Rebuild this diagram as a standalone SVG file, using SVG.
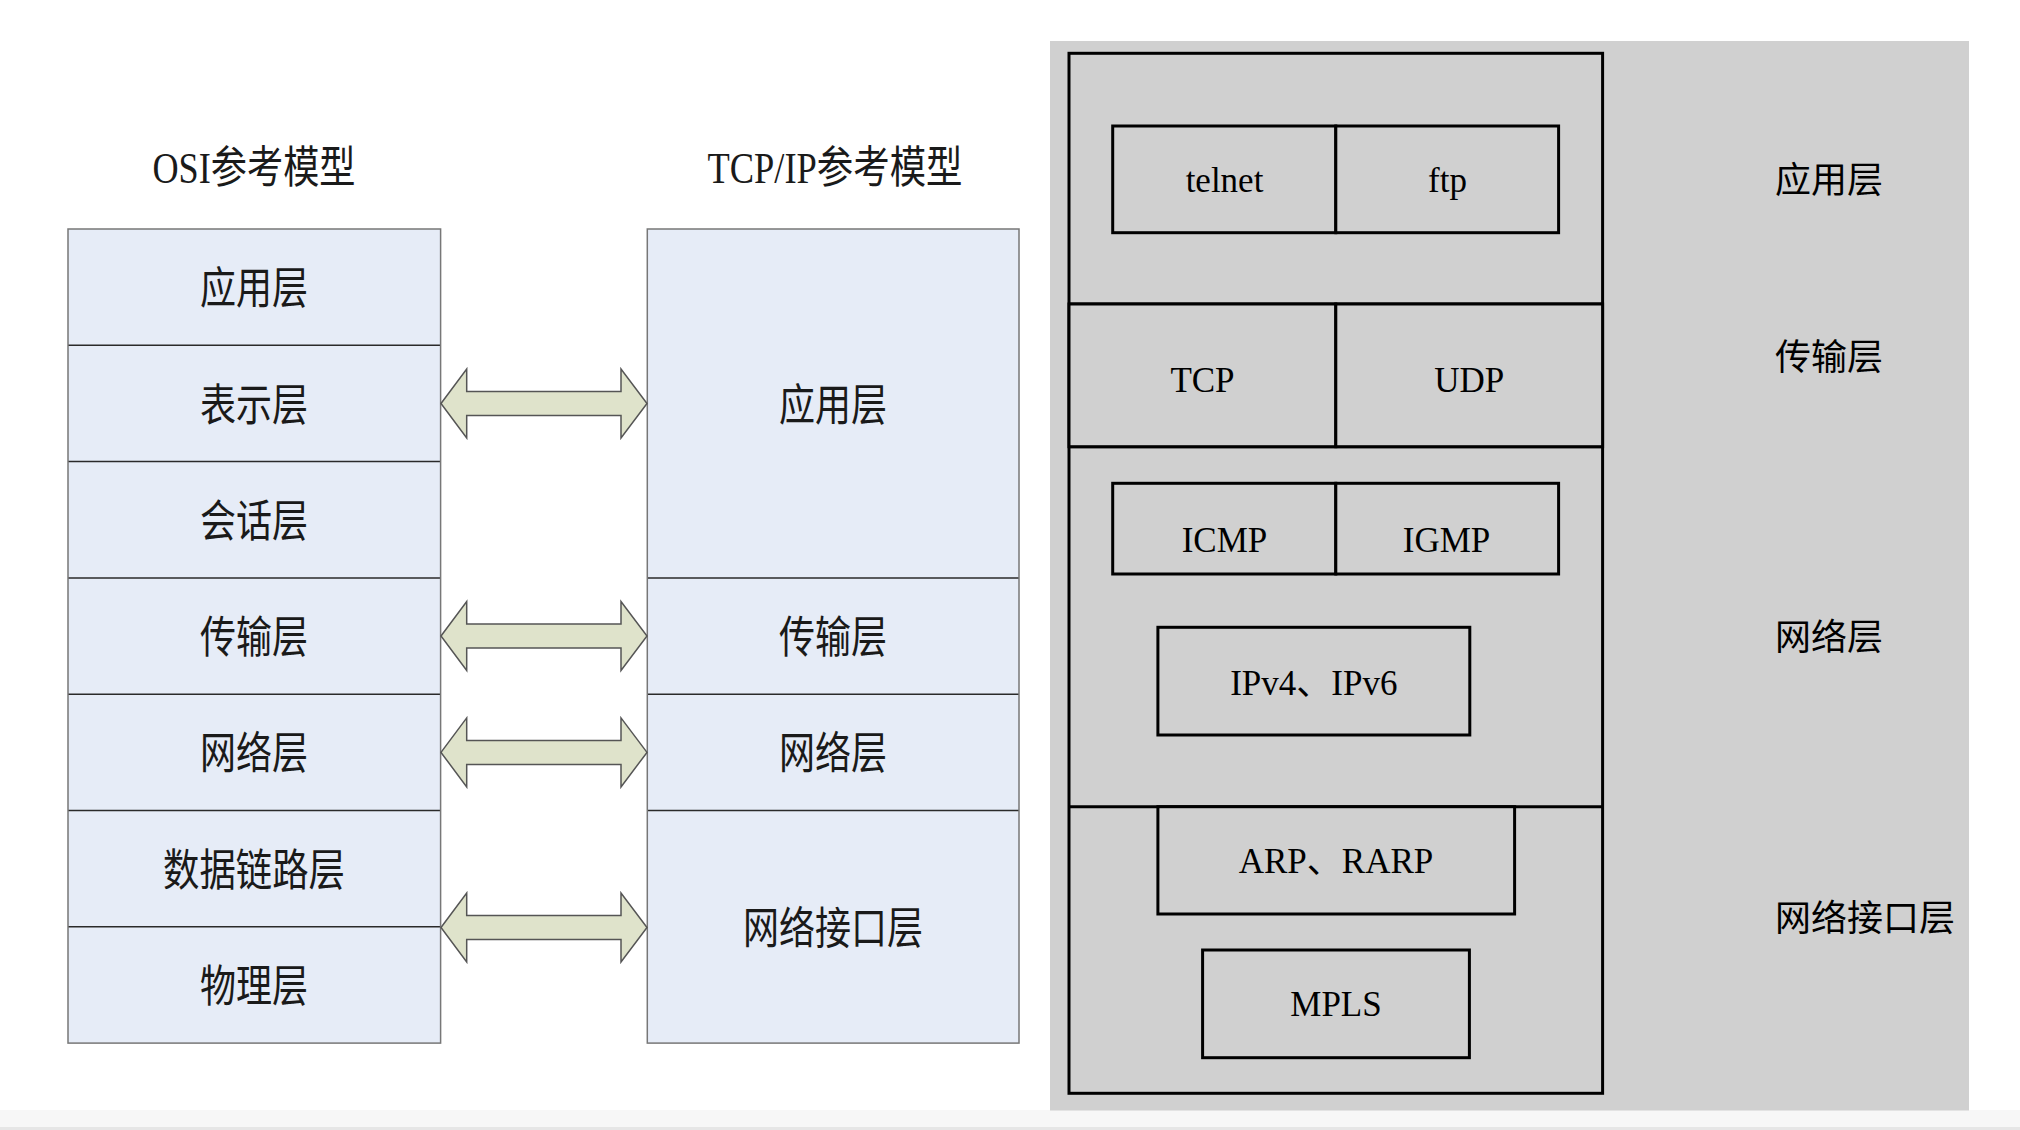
<svg xmlns="http://www.w3.org/2000/svg" width="2020" height="1130" viewBox="0 0 2020 1130">
<style>
.cell{fill:#e6ecf7;stroke:none}
.div{stroke:#2a2a2a;stroke-width:1.5}
.frame{fill:none;stroke:#777;stroke-width:1.5}
.lbl{font-family:"Liberation Serif","Noto Sans CJK SC",serif;font-size:44px;fill:#1a1a1a;text-anchor:middle}
.arrow{fill:#dfe3cb;stroke:#555;stroke-width:1.5;stroke-linejoin:miter}
.box{fill:#d0d0d0;stroke:#000;stroke-width:3}
.pt{font-family:"Liberation Serif","Noto Sans CJK SC",serif;font-size:35px;fill:#000;text-anchor:middle}
.side{font-family:"Noto Sans CJK SC",sans-serif;font-size:36px;fill:#000}
</style>
<rect x="0" y="0" width="2020" height="1130" fill="#ffffff"/>
<rect x="0" y="1110" width="2020" height="17" fill="#f7f7f7"/>
<rect x="0" y="1127" width="2020" height="3" fill="#e6e6e6"/>

<!-- Titles -->
<text id="osi-title" class="lbl" x="254" y="183" textLength="203" lengthAdjust="spacingAndGlyphs">OSI参考模型</text>
<text id="tcpip-title" class="lbl" x="835" y="183" textLength="255" lengthAdjust="spacingAndGlyphs">TCP/IP参考模型</text>

<!-- OSI model -->
<g id="osi-app"><rect class="cell" x="68" y="229" width="372.6" height="116.3"/><text class="lbl" x="254" y="304" textLength="108" lengthAdjust="spacingAndGlyphs">应用层</text></g>
<g id="osi-pres"><rect class="cell" x="68" y="345.3" width="372.6" height="116.3"/><text class="lbl" x="254" y="420.5" textLength="108" lengthAdjust="spacingAndGlyphs">表示层</text></g>
<g id="osi-sess"><rect class="cell" x="68" y="461.6" width="372.6" height="116.3"/><text class="lbl" x="254" y="537" textLength="108" lengthAdjust="spacingAndGlyphs">会话层</text></g>
<g id="osi-trans"><rect class="cell" x="68" y="577.9" width="372.6" height="116.3"/><text class="lbl" x="254" y="653" textLength="108" lengthAdjust="spacingAndGlyphs">传输层</text></g>
<g id="osi-net"><rect class="cell" x="68" y="694.2" width="372.6" height="116.3"/><text class="lbl" x="254" y="769.4" textLength="108" lengthAdjust="spacingAndGlyphs">网络层</text></g>
<g id="osi-link"><rect class="cell" x="68" y="810.5" width="372.6" height="116.3"/><text class="lbl" x="254" y="885.7" textLength="182" lengthAdjust="spacingAndGlyphs">数据链路层</text></g>
<g id="osi-phys"><rect class="cell" x="68" y="926.8" width="372.6" height="116.3"/><text class="lbl" x="254" y="1002" textLength="108" lengthAdjust="spacingAndGlyphs">物理层</text></g>
<g id="osi-frame">
<line class="div" x1="68" y1="345.3" x2="440.6" y2="345.3"/>
<line class="div" x1="68" y1="461.6" x2="440.6" y2="461.6"/>
<line class="div" x1="68" y1="577.9" x2="440.6" y2="577.9"/>
<line class="div" x1="68" y1="694.2" x2="440.6" y2="694.2"/>
<line class="div" x1="68" y1="810.5" x2="440.6" y2="810.5"/>
<line class="div" x1="68" y1="926.8" x2="440.6" y2="926.8"/>
<rect class="frame" x="68" y="229" width="372.6" height="814.1"/>
</g>

<!-- TCP/IP model -->
<g id="tcp-app"><rect class="cell" x="647.3" y="229" width="371.7" height="348.9"/><text class="lbl" x="833" y="420.5" textLength="108" lengthAdjust="spacingAndGlyphs">应用层</text></g>
<g id="tcp-trans"><rect class="cell" x="647.3" y="577.9" width="371.7" height="116.3"/><text class="lbl" x="833" y="653" textLength="108" lengthAdjust="spacingAndGlyphs">传输层</text></g>
<g id="tcp-net"><rect class="cell" x="647.3" y="694.2" width="371.7" height="116.3"/><text class="lbl" x="833" y="769.4" textLength="108" lengthAdjust="spacingAndGlyphs">网络层</text></g>
<g id="tcp-if"><rect class="cell" x="647.3" y="810.5" width="371.7" height="232.6"/><text class="lbl" x="833" y="944" textLength="180" lengthAdjust="spacingAndGlyphs">网络接口层</text></g>
<g id="tcp-frame">
<line class="div" x1="647.3" y1="577.9" x2="1019" y2="577.9"/>
<line class="div" x1="647.3" y1="694.2" x2="1019" y2="694.2"/>
<line class="div" x1="647.3" y1="810.5" x2="1019" y2="810.5"/>
<rect class="frame" x="647.3" y="229" width="371.7" height="814.1"/>
</g>

<!-- Connectors -->
<g id="connectors">
<polygon class="arrow" points="441,403.5 466.7,369 466.7,391.5 621,391.5 621,369 647,403.5 621,438 621,415.5 466.7,415.5 466.7,438"/>
<polygon class="arrow" points="441,636 466.7,601.5 466.7,624 621,624 621,601.5 647,636 621,670.5 621,648 466.7,648 466.7,670.5"/>
<polygon class="arrow" points="441,752.4 466.7,717.9 466.7,740.4 621,740.4 621,717.9 647,752.4 621,786.9 621,764.4 466.7,764.4 466.7,786.9"/>
<polygon class="arrow" points="441,927.5 466.7,893 466.7,915.5 621,915.5 621,893 647,927.5 621,962 621,939.5 466.7,939.5 466.7,962"/>
</g>

<!-- Right panel -->
<rect id="panel-bg" x="1050" y="41" width="919" height="1069.5" fill="#d0d0d0"/>
<g id="stack-frame">
<rect class="box" x="1069" y="53.3" width="533.6" height="1040"/>
<line class="box" x1="1069" y1="304" x2="1602.6" y2="304"/>
<line class="box" x1="1069" y1="446.7" x2="1602.6" y2="446.7"/>
<line class="box" x1="1069" y1="806.7" x2="1602.6" y2="806.7"/>
</g>
<g id="telnet"><rect class="box" x="1112.7" y="126" width="223.1" height="106.7"/><text class="pt" x="1224.5" y="191.7">telnet</text></g>
<g id="ftp"><rect class="box" x="1335.8" y="126" width="222.8" height="106.7"/><text class="pt" x="1447.5" y="191.7">ftp</text></g>
<g id="tcp"><rect class="box" x="1069" y="304" width="266.8" height="142.7"/><text class="pt" x="1202.5" y="391.7">TCP</text></g>
<g id="udp"><rect class="box" x="1335.8" y="304" width="266.8" height="142.7"/><text class="pt" x="1469.3" y="391.7">UDP</text></g>
<g id="icmp"><rect class="box" x="1112.7" y="483.3" width="223.1" height="90.7"/><text class="pt" x="1224.5" y="551.7">ICMP</text></g>
<g id="igmp"><rect class="box" x="1335.8" y="483.3" width="222.8" height="90.7"/><text class="pt" x="1446.5" y="551.7">IGMP</text></g>
<g id="ip"><rect class="box" x="1157.9" y="627.3" width="311.9" height="107.7"/><text class="pt" x="1313.8" y="695">IPv4、IPv6</text></g>
<g id="arp"><rect class="box" x="1157.9" y="806.7" width="356.7" height="107.3"/><text class="pt" x="1336" y="872.7">ARP、RARP</text></g>
<g id="mpls"><rect class="box" x="1202.6" y="950" width="266.8" height="107.7"/><text class="pt" x="1336" y="1016">MPLS</text></g>

<g id="side-labels">
<text class="side" x="1775" y="193">应用层</text>
<text class="side" x="1775" y="370">传输层</text>
<text class="side" x="1775" y="650">网络层</text>
<text class="side" x="1775" y="931">网络接口层</text>
</g>
</svg>
